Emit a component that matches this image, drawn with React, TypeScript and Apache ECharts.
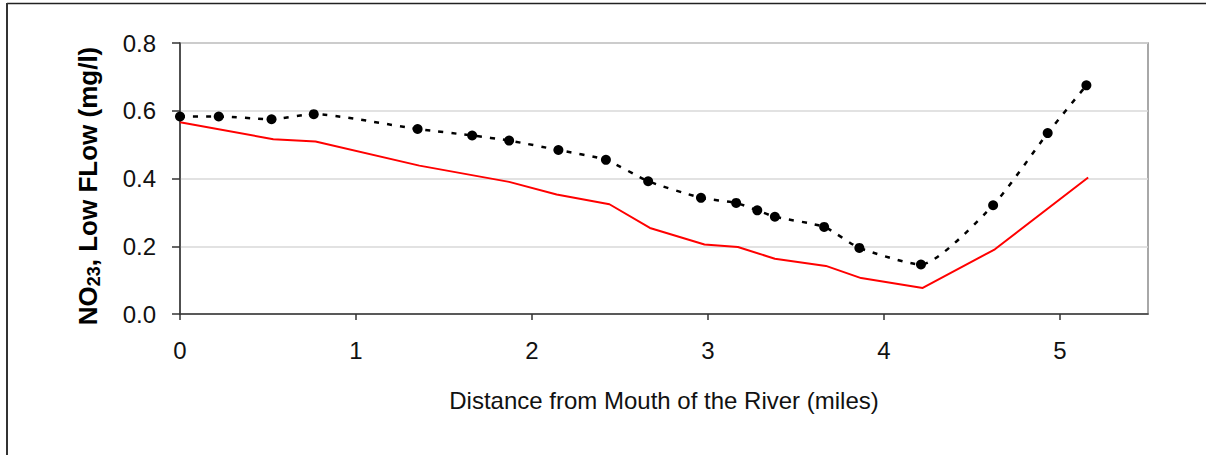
import React, { useEffect, useRef } from "react";
import * as echarts from "echarts";

// Observed NO23 (black dots, dashed line)
const obsDistance = [0, 0.22, 0.52, 0.76, 1.35, 1.66, 1.87, 2.15, 2.42, 2.66, 2.96, 3.16, 3.28, 3.38, 3.66, 3.86, 4.21, 4.62, 4.93, 5.15];
const obsValues = [0.583, 0.583, 0.575, 0.59, 0.546, 0.527, 0.512, 0.484, 0.455, 0.392, 0.343, 0.328, 0.306, 0.287, 0.257, 0.195, 0.146, 0.321, 0.534, 0.675];

// Model NO23 (red line)
const modelDistance = [0, 0.53, 0.77, 1.36, 1.87, 2.14, 2.44, 2.67, 2.98, 3.17, 3.38, 3.67, 3.87, 4.22, 4.63, 5.16];
const modelValues = [0.566, 0.516, 0.509, 0.438, 0.39, 0.353, 0.324, 0.254, 0.205, 0.198, 0.163, 0.142, 0.106, 0.077, 0.191, 0.403];

const xTitle = "Distance from Mouth of the River (miles)";
const yTitleParts = ["NO", "23", ", Low FLow (mg/l)"];

export default function App() {
  const ref = useRef<HTMLDivElement>(null);
  useEffect(() => {
    if (!ref.current) return;
    const chart = echarts.init(ref.current, null, { renderer: "svg" });
    const font = "'Liberation Sans', Arial, sans-serif";
    chart.setOption({
      animation: false,
      backgroundColor: "#ffffff",
      textStyle: { fontFamily: font },
      grid: {
        left: 180,
        top: 43,
        right: 58,
        bottom: 141,
        show: true,
        borderColor: "#8c8c8c",
        borderWidth: 1.5,
        backgroundColor: "transparent",
      },
      xAxis: {
        type: "value",
        min: 0,
        max: 5.5,
        interval: 1,
        name: xTitle,
        nameLocation: "middle",
        nameGap: 74,
        nameTextStyle: { fontSize: 24, color: "#111", fontFamily: font },
        axisLine: { show: true, lineStyle: { color: "#333", width: 1.5 } },
        axisTick: { show: true, length: 6, lineStyle: { color: "#333", width: 1.5 } },
        axisLabel: { show: true, showMaxLabel: false, margin: 24, fontSize: 24, color: "#111", fontFamily: font },
        splitLine: { show: false },
      },
      yAxis: {
        type: "value",
        min: 0,
        max: 0.8,
        interval: 0.2,
        axisLine: { show: true, lineStyle: { color: "#333", width: 1.5 } },
        axisTick: { show: true, length: 8, lineStyle: { color: "#333", width: 1.5 } },
        axisLabel: {
          margin: 24,
          fontSize: 24,
          color: "#111",
          fontFamily: font,
          formatter: (v: number) => v.toFixed(1),
        },
        splitLine: { show: true, lineStyle: { color: "#d9d9d9", width: 1.5 } },
      },
      graphic: [
        {
          type: "line",
          shape: { x1: 7, y1: 3.5, x2: 1206, y2: 3.5 },
          style: { stroke: "#222", lineWidth: 1.5 },
        },
        {
          type: "line",
          shape: { x1: 7, y1: 3, x2: 7, y2: 455 },
          style: { stroke: "#333", lineWidth: 2 },
        },
        {
          type: "text",
          x: 88,
          y: 186,
          rotation: Math.PI / 2,
          style: {
            text: `{m|${yTitleParts[0]}}{s|${yTitleParts[1]}}{m|${yTitleParts[2]}}`,
            align: "center",
            verticalAlign: "middle",
            rich: {
              m: { fontSize: 26, fontWeight: "bold", fontFamily: font, fill: "#000", lineHeight: 30, verticalAlign: "middle" },
              s: { fontSize: 18, fontWeight: "bold", fontFamily: font, fill: "#000", lineHeight: 30, verticalAlign: "bottom" },
            },
          },
        },
      ],
      series: [
        {
          name: "Model",
          type: "line",
          data: modelDistance.map((d, i) => [d, modelValues[i]]),
          showSymbol: false,
          symbol: "none",
          lineStyle: { color: "#ff0000", width: 2 },
          z: 2,
        },
        {
          name: "Observed",
          type: "line",
          data: obsDistance.map((d, i) => [d, obsValues[i]]),
          smooth: 0.2,
          symbol: "circle",
          symbolSize: 10,
          showSymbol: true,
          itemStyle: { color: "#000" },
          lineStyle: { color: "#000", width: 2.5, type: [5, 8] },
          z: 3,
        },
      ],
    });
    return () => chart.dispose();
  }, []);
  return (
    <div
      ref={ref}
      style={{ position: "fixed", left: 0, top: 0, width: 1206, height: 455 }}
    />
  );
}
